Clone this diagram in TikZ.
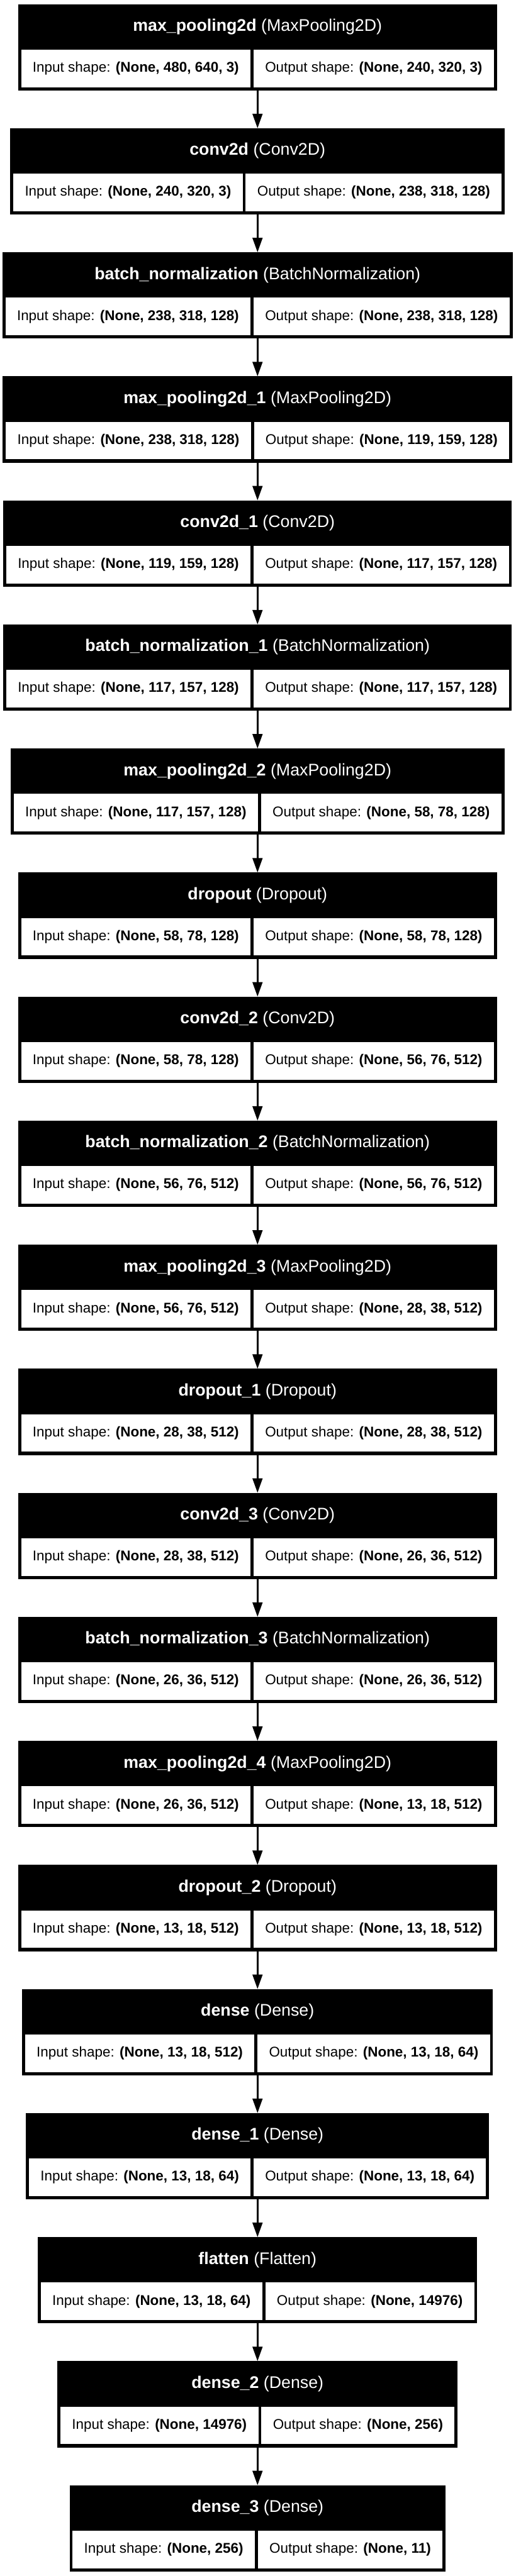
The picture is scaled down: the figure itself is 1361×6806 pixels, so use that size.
\documentclass[tikz,border=0pt]{standalone}
\usepackage{fontspec}
\setmainfont{Liberation Sans}
\usetikzlibrary{arrows.meta,calc}
\newlength\wlen \newlength\wren
\newcommand\cellfont{\fontsize{37.3pt}{44pt}\selectfont}
\newcommand\headfont{\fontsize{44.5pt}{52pt}\selectfont}
\tikzset{
 outerbox/.style={fill=black, draw=none, inner sep=0pt, outer sep=0pt, minimum height=228pt, anchor=north},
 headtxt/.style={text=white, font=\headfont, inner sep=0pt},
 cellbox/.style={fill=white, draw=none, inner sep=0pt, outer sep=0pt, minimum height=99.5pt, font=\cellfont, text=black},
 flow/.style={line width=4.3pt, -{Triangle[length=38pt,width=26pt]}},
}
% pass 1: measure the cell texts (outside the picture)
\newcommand\measurebox[6]{%
 \settowidth\wlen{\cellfont Input shape: \textbf{#5}}%
 \settowidth\wren{\cellfont Output shape: \textbf{#6}}%
 \expandafter\xdef\csname wl#1\endcsname{\the\wlen}%
 \expandafter\xdef\csname wr#1\endcsname{\the\wren}%
}
% pass 2: draw
\newcommand\drawbox[6]{%
 \pgfmathsetmacro\wl{\csname wl#1\endcsname+61}%
 \pgfmathsetmacro\wr{\csname wr#1\endcsname+61}%
 \pgfmathsetmacro\tw{\wl+\wr+24}%
 \pgfmathsetmacro\ytop{-(11+327.75*(#2-1))}%
 \node[outerbox, minimum width=\tw pt] (#1) at (680,\ytop) {};
 \node[headtxt] (#1h) at ([yshift=-60pt]#1.north) {\textbf{#3} (#4)};
 \node[cellbox, minimum width=\wl pt, anchor=south west] (#1i) at ([shift={(8pt,8.5pt)}]#1.south west) {Input shape: \textbf{#5}};
 \node[cellbox, minimum width=\wr pt, anchor=south east] (#1o) at ([shift={(-8pt,8.5pt)}]#1.south east) {Output shape: \textbf{#6}};
}
\newcommand\alllayers{%
\layerbox{L1}{1}{max\_pooling2d}{MaxPooling2D}{(None, 480, 640, 3)}{(None, 240, 320, 3)}
\layerbox{L2}{2}{conv2d}{Conv2D}{(None, 240, 320, 3)}{(None, 238, 318, 128)}
\layerbox{L3}{3}{batch\_normalization}{BatchNormalization}{(None, 238, 318, 128)}{(None, 238, 318, 128)}
\layerbox{L4}{4}{max\_pooling2d\_1}{MaxPooling2D}{(None, 238, 318, 128)}{(None, 119, 159, 128)}
\layerbox{L5}{5}{conv2d\_1}{Conv2D}{(None, 119, 159, 128)}{(None, 117, 157, 128)}
\layerbox{L6}{6}{batch\_normalization\_1}{BatchNormalization}{(None, 117, 157, 128)}{(None, 117, 157, 128)}
\layerbox{L7}{7}{max\_pooling2d\_2}{MaxPooling2D}{(None, 117, 157, 128)}{(None, 58, 78, 128)}
\layerbox{L8}{8}{dropout}{Dropout}{(None, 58, 78, 128)}{(None, 58, 78, 128)}
\layerbox{L9}{9}{conv2d\_2}{Conv2D}{(None, 58, 78, 128)}{(None, 56, 76, 512)}
\layerbox{L10}{10}{batch\_normalization\_2}{BatchNormalization}{(None, 56, 76, 512)}{(None, 56, 76, 512)}
\layerbox{L11}{11}{max\_pooling2d\_3}{MaxPooling2D}{(None, 56, 76, 512)}{(None, 28, 38, 512)}
\layerbox{L12}{12}{dropout\_1}{Dropout}{(None, 28, 38, 512)}{(None, 28, 38, 512)}
\layerbox{L13}{13}{conv2d\_3}{Conv2D}{(None, 28, 38, 512)}{(None, 26, 36, 512)}
\layerbox{L14}{14}{batch\_normalization\_3}{BatchNormalization}{(None, 26, 36, 512)}{(None, 26, 36, 512)}
\layerbox{L15}{15}{max\_pooling2d\_4}{MaxPooling2D}{(None, 26, 36, 512)}{(None, 13, 18, 512)}
\layerbox{L16}{16}{dropout\_2}{Dropout}{(None, 13, 18, 512)}{(None, 13, 18, 512)}
\layerbox{L17}{17}{dense}{Dense}{(None, 13, 18, 512)}{(None, 13, 18, 64)}
\layerbox{L18}{18}{dense\_1}{Dense}{(None, 13, 18, 64)}{(None, 13, 18, 64)}
\layerbox{L19}{19}{flatten}{Flatten}{(None, 13, 18, 64)}{(None, 14976)}
\layerbox{L20}{20}{dense\_2}{Dense}{(None, 14976)}{(None, 256)}
\layerbox{L21}{21}{dense\_3}{Dense}{(None, 256)}{(None, 11)}
}
\begin{document}
\let\layerbox\measurebox
\alllayers
\begin{tikzpicture}[x=1pt,y=1pt]
\useasboundingbox (0,0) rectangle (1361,-6806);
\let\layerbox\drawbox
\alllayers
\foreach \i in {1,...,20}{
  \pgfmathtruncatemacro\j{\i+1}
  \draw[flow] (L\i.south) -- (L\j.north);
}
\end{tikzpicture}
\end{document}
